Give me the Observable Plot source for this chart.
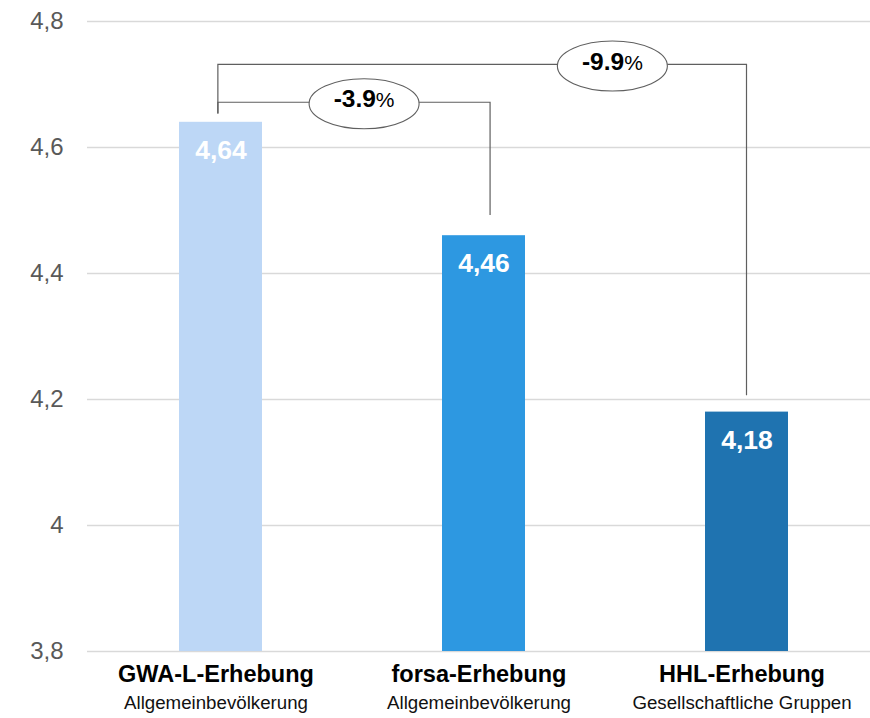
<!DOCTYPE html>
<html><head><meta charset="utf-8">
<script src="https://cdn.jsdelivr.net/npm/d3@7"></script>
<script src="https://cdn.jsdelivr.net/npm/@observablehq/plot@0.6"></script>
<style>
body{margin:0;background:#fff}
svg{font-family:"Liberation Sans",Arial,sans-serif}
</style>
</head><body><div id="chart"></div>
<script>
const categories = ["GWA-L-Erhebung", "forsa-Erhebung", "HHL-Erhebung"];
const subtitles = ["Allgemeinbevölkerung", "Allgemeinbevölkerung", "Gesellschaftliche Gruppen"];
const values = [4.64, 4.46, 4.18];
const valueLabels = ["4,64", "4,46", "4,18"];
const barColors = ["#bdd7f6", "#2d98e1", "#1f73b0"];
const yTicks = [3.8, 4, 4.2, 4.4, 4.6, 4.8];
const yTickLabels = ["3,8", "4", "4,2", "4,4", "4,6", "4,8"];

// change brackets (positions in category-index units, levels in y units)
const changeLabels = ["-3.9", "-9.9"];
const bracketFrom = [-0.01, -0.01];
const bracketTo = [1.025, 2.0];
const bracketTop = [4.671, 4.731];
const bracketLeftEnd = [4.653, 4.653];
const bracketRightEnd = [4.492, 4.206];
const labelPos = [0.546, 1.49];

const data = categories.map((c, i) => ({cat: c, sub: subtitles[i], value: values[i], label: valueLabels[i], color: barColors[i]}));

function brackets(index, scales) {
  const x = scales.x, y = scales.y;
  const bw = x.bandwidth ? x.bandwidth() : 0;
  const c0 = x(categories[0]) + bw / 2, c1 = x(categories[1]) + bw / 2;
  const px = p => c0 + p * (c1 - c0);
  const g = d3.create("svg:g");
  for (let i = 0; i < changeLabels.length; i++) {
    const xl = px(bracketFrom[i]), xr = px(bracketTo[i]), yt = y(bracketTop[i]);
    g.append("path")
      .attr("d", `M${xl},${y(bracketLeftEnd[i])}V${yt}H${xr}V${y(bracketRightEnd[i])}`)
      .attr("fill", "none").attr("stroke", "#5f5f5f").attr("stroke-width", 1.2);
  }
  for (let i = 0; i < changeLabels.length; i++) {
    const cx = px(labelPos[i]), cy = y(bracketTop[i]) + 1.5;
    g.append("ellipse").attr("cx", cx).attr("cy", cy).attr("rx", 55).attr("ry", 25)
      .attr("fill", "#fff").attr("stroke", "#5f5f5f").attr("stroke-width", 1.1);
    const t = g.append("text").attr("x", cx).attr("y", cy).attr("dy", "0.36em")
      .attr("text-anchor", "middle").attr("fill", "#000");
    t.append("tspan").attr("font-weight", "bold").attr("font-size", 24.5).text(changeLabels[i]);
    t.append("tspan").attr("font-size", 21).text("%");
  }
  return g.node();
}

const chart = Plot.plot({
  width: 870,
  height: 718,
  marginTop: 21,
  marginBottom: 67,
  marginLeft: 87,
  marginRight: 0,
  x: {domain: categories, paddingInner: 0.685, paddingOuter: 0.328, align: 0.526, axis: null},
  y: {domain: [yTicks[0], yTicks[yTicks.length - 1]]},
  marks: [
    Plot.gridY(yTicks, {stroke: "#d9d9d9", strokeOpacity: 1, strokeWidth: 1.6}),
    Plot.axisY(yTicks, {tickSize: 0, tickPadding: 24, fontSize: 24, color: "#595959", label: null,
      tickFormat: d => yTickLabels[yTicks.indexOf(d)]}),
    Plot.barY(data, {x: "cat", y1: yTicks[0], y2: "value", fill: d => d.color}),
    Plot.text(data, {x: "cat", y: "value", text: "label", dy: 28, fill: "#fff", fontWeight: "bold", fontSize: 26.5}),
    Plot.text(data, {x: "cat", text: "cat", frameAnchor: "bottom", dy: 30, dx: -5, fill: "#000", fontWeight: "bold", fontSize: 23.5}),
    Plot.text(data, {x: "cat", text: "sub", frameAnchor: "bottom", dy: 57, dx: -5, fill: "#111", fontSize: 18.7}),
    brackets
  ]
});
document.getElementById("chart").appendChild(chart);
</script>
</body></html>
